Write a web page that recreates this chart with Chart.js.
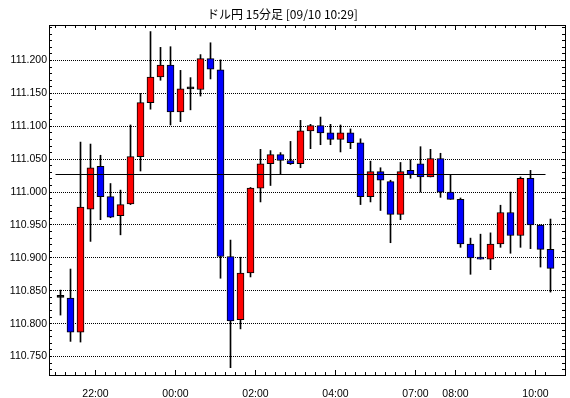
<!DOCTYPE html>
<html>
<head>
<meta charset="utf-8">
<script src="https://cdn.jsdelivr.net/npm/chart.js@4.4.0/dist/chart.umd.min.js"></script>
<style>
  body { margin: 0; background: #fff; }
</style>
</head>
<body>
<canvas id="fxChart" width="570" height="398"></canvas>
<script>
// 15分足 (06:00台は欠落)
const times = [
  '21:00','21:15','21:30','21:45','22:00','22:15','22:30','22:45',
  '23:00','23:15','23:30','23:45','00:00','00:15','00:30','00:45',
  '01:00','01:15','01:30','01:45','02:00','02:15','02:30','02:45',
  '03:00','03:15','03:30','03:45','04:00','04:15','04:30','04:45',
  '05:00','05:15','05:30','05:45','07:00','07:15','07:30','07:45',
  '08:00','08:15','08:30','08:45','09:00','09:15','09:30','09:45',
  '10:00','10:15'
];
const opens = [
  110.840,110.839,110.787,110.974,111.039,110.993,110.964,110.982,111.054,111.136,
  111.175,111.193,111.122,111.157,111.156,111.203,111.186,110.902,110.806,110.877,
  111.006,111.043,111.057,111.048,111.043,111.093,111.101,111.090,111.080,111.090,
  111.075,110.993,111.031,111.016,110.966,111.033,111.043,111.023,111.051,111.000,
  110.989,110.921,110.900,110.898,110.921,110.969,110.934,111.021,110.950,110.913
];
const highs = [
  110.851,110.883,111.076,111.073,111.056,111.013,111.003,111.102,111.150,111.244,
  111.220,111.221,111.185,111.174,111.209,111.227,111.201,110.927,110.901,111.007,
  111.065,111.063,111.060,111.077,111.109,111.103,111.114,111.103,111.102,111.096,
  111.081,111.047,111.037,111.018,111.045,111.049,111.069,111.065,111.059,111.027,
  110.991,110.930,110.936,110.938,110.980,111.000,111.023,111.033,110.950,110.959
];
const lows = [
  110.813,110.773,110.772,110.925,110.958,110.961,110.935,110.981,111.032,111.126,
  111.170,111.102,111.107,111.125,111.146,111.172,110.869,110.733,110.792,110.871,
  110.985,111.010,111.027,111.042,111.037,111.066,111.072,111.072,111.061,111.066,
  110.981,110.985,110.972,110.923,110.958,111.021,111.000,111.023,110.992,110.989,
  110.916,110.875,110.898,110.882,110.916,110.907,110.916,110.914,110.886,110.848
];
const closes = [
  110.840,110.787,110.977,111.037,110.993,110.962,110.981,111.054,111.136,111.175,
  111.193,111.122,111.157,111.157,111.203,111.187,110.902,110.804,110.877,111.006,
  111.043,111.057,111.048,111.043,111.093,111.101,111.090,111.080,111.090,111.075,
  110.993,111.031,111.018,110.966,111.031,111.027,111.023,111.051,111.000,110.989,
  110.921,110.900,110.898,110.921,110.969,110.934,111.021,110.950,110.913,110.884
];
const refLine = 111.0267;
const tickLabels = ['22:00','00:00','02:00','04:00','07:00','08:00','10:00'];
const yTicks = [110.750,110.800,110.850,110.900,110.950,111.000,111.050,111.100,111.150,111.200];

// 枠と目盛り線（内向き）
const frameTicks = {
  id: 'frameTicks',
  afterDraw(chart) {
    const { ctx, chartArea: a, scales: { x, y } } = chart;
    ctx.save();
    ctx.strokeStyle = '#000';
    ctx.lineWidth = 1;
    ctx.beginPath();
    for (let i = 0; i < times.length; i++) {
      const px = Math.floor(x.getPixelForValue(i - 0.5)) + 0.5;
      const len = tickLabels.includes(times[i]) ? 5 : 3;
      ctx.moveTo(px, a.bottom); ctx.lineTo(px, a.bottom - len);
      ctx.moveTo(px, a.top); ctx.lineTo(px, a.top + len);
    }
    for (let k = 73; k <= 125; k++) {
      const py = Math.floor(y.getPixelForValue(110 + k / 100)) + 0.5;
      ctx.moveTo(a.left, py); ctx.lineTo(a.left + 3, py);
      ctx.moveTo(a.right, py); ctx.lineTo(a.right - 3, py);
    }
    ctx.stroke();
    ctx.strokeRect(a.left + 0.5, a.top + 0.5, a.right - a.left, a.bottom - a.top);
    ctx.restore();
  }
};

function renderCandleChart() {
  const ctx = document.getElementById('fxChart').getContext('2d');
  const bodies = times.map((t, i) => ({ x: i, y: [opens[i], closes[i]] }));
  const wicks = times.map((t, i) => ({ x: i, y: [lows[i], highs[i]] }));
  // 陽線=赤, 陰線=青, 同値=黒
  const bodyColors = times.map((t, i) =>
    closes[i] > opens[i] ? '#ff0000' : (closes[i] < opens[i] ? '#0000ff' : '#000000'));
  const tickFont = { family: '"Liberation Sans", Arial, sans-serif', size: 10.5 };

  new Chart(ctx, {
    type: 'bar',
    data: {
      datasets: [{
        type: 'line',
        data: [{ x: -0.5, y: refLine }, { x: times.length - 1.5, y: refLine }],
        borderColor: '#000',
        borderWidth: 1,
        pointRadius: 0,
        fill: false,
        order: 0
      }, {
        data: bodies,
        backgroundColor: bodyColors,
        borderColor: '#000',
        borderWidth: 1,
        borderSkipped: false,
        barThickness: 7,
        minBarLength: 2,
        grouped: false,
        order: 1
      }, {
        data: wicks,
        backgroundColor: '#000',
        borderWidth: 0,
        barThickness: 1,
        grouped: false,
        order: 2
      }]
    },
    options: {
      responsive: false,
      animation: false,
      events: [],
      layout: { padding: { left: 0, right: 5, top: 0, bottom: 0 } },
      scales: {
        x: {
          type: 'linear',
          min: -1.15,
          max: 50.45,
          offset: false,
          grid: { display: false },
          border: { display: false },
          afterBuildTicks: (scale) => {
            scale.ticks = tickLabels.map(t => ({ value: times.indexOf(t) - 0.5 }));
          },
          afterFit: (scale) => { scale.height = 23; },
          ticks: {
            autoSkip: false,
            maxRotation: 0,
            minRotation: 0,
            padding: 4.5,
            color: '#000',
            font: tickFont,
            callback: (v) => times[Math.round(v + 0.5)]
          }
        },
        y: {
          type: 'linear',
          min: 110.7219,
          max: 111.2540,
          grid: { color: '#000', lineWidth: 1, drawTicks: false },
          border: { display: false, dash: [1, 1] },
          afterBuildTicks: (scale) => {
            scale.ticks = yTicks.map(v => ({ value: v }));
          },
          afterFit: (scale) => { scale.width = 49; },
          ticks: {
            autoSkip: false,
            padding: 2,
            color: '#000',
            font: tickFont,
            callback: (v) => v.toFixed(3)
          }
        }
      },
      plugins: {
        legend: { display: false },
        tooltip: { enabled: false },
        title: {
          display: true,
          text: 'ドル円 15分足 [09/10 10:29]',
          color: '#000',
          font: { family: '"Noto Sans CJK JP", sans-serif', size: 12, weight: 'normal' },
          padding: { top: 7, bottom: 3.6 }
        }
      }
    },
    plugins: [frameTicks]
  });
}

renderCandleChart();
</script>
</body>
</html>
